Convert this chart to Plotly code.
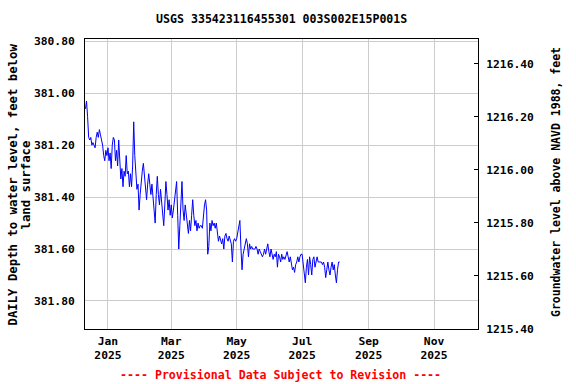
import pandas as pd
import plotly.graph_objects as go

start_date = "2024-12-11"
depth_ft = [
    381.06, 381.03, 381.09, 381.17, 381.18, 381.17, 381.20, 381.19, 381.20, 381.21,
    381.17, 381.15, 381.17, 381.14, 381.16, 381.18, 381.20, 381.24, 381.26, 381.22,
    381.24, 381.21, 381.26, 381.23, 381.29, 381.20, 381.17, 381.18, 381.26, 381.22,
    381.28, 381.18, 381.26, 381.33, 381.29, 381.36, 381.30, 381.32, 381.24, 381.31,
    381.30, 381.36, 381.31, 381.36, 381.28, 381.11, 381.24, 381.31, 381.37, 381.35,
    381.45, 381.39, 381.33, 381.30, 381.27, 381.33, 381.37, 381.41, 381.35, 381.31,
    381.35, 381.39, 381.35, 381.41, 381.46, 381.50, 381.39, 381.32, 381.39, 381.43,
    381.37, 381.41, 381.47, 381.51, 381.43, 381.34, 381.39, 381.45, 381.41, 381.47,
    381.43, 381.48, 381.45, 381.41, 381.37, 381.34, 381.47, 381.60, 381.51, 381.43,
    381.34, 381.45, 381.49, 381.43, 381.46, 381.51, 381.54, 381.49, 381.53, 381.47,
    381.41, 381.47, 381.51, 381.49, 381.53, 381.50, 381.52, 381.51, 381.51, 381.52,
    381.47, 381.43, 381.41, 381.45, 381.62, 381.59, 381.50, 381.53, 381.49, 381.51,
    381.50, 381.52, 381.50, 381.54, 381.57, 381.55, 381.57, 381.58, 381.56, 381.60,
    381.55, 381.54, 381.56, 381.57, 381.55, 381.57, 381.58, 381.65, 381.57, 381.56,
    381.57, 381.56, 381.53, 381.50, 381.49, 381.60, 381.68, 381.62, 381.60, 381.57,
    381.56, 381.58, 381.63, 381.58, 381.60, 381.59, 381.60, 381.60, 381.60, 381.59,
    381.60, 381.62, 381.60, 381.61, 381.62, 381.63, 381.62, 381.60, 381.62, 381.60,
    381.58, 381.61, 381.63, 381.60, 381.62, 381.64, 381.62, 381.63, 381.61, 381.67,
    381.62, 381.63, 381.65, 381.62, 381.64, 381.63, 381.64, 381.62, 381.61, 381.63,
    381.65, 381.63, 381.66, 381.68, 381.67, 381.69, 381.66, 381.65, 381.63, 381.65,
    381.63, 381.62, 381.62, 381.65, 381.69, 381.73, 381.67, 381.64, 381.70, 381.63,
    381.66, 381.70, 381.64, 381.63, 381.67, 381.65, 381.63, 381.65, 381.65, 381.65,
    381.65, 381.66, 381.65, 381.67, 381.71, 381.68, 381.65, 381.68, 381.70, 381.67,
    381.65, 381.68, 381.66, 381.70, 381.73, 381.68, 381.65, 381.65,
]
dates = pd.date_range(start_date, periods=len(depth_ft), freq="D")

left_ticks = [380.80, 381.00, 381.20, 381.40, 381.60, 381.80]
right_ticks = [1215.40, 1215.60, 1215.80, 1216.00, 1216.20, 1216.40]
x_tick_dates = ["2025-01-01", "2025-03-01", "2025-05-01", "2025-07-01", "2025-09-01", "2025-11-01"]
x_tick_text = ["Jan<br>2025", "Mar<br>2025", "May<br>2025", "Jul<br>2025", "Sep<br>2025", "Nov<br>2025"]

FONT = "DejaVu Sans Mono"

fig = go.Figure()
fig.add_trace(go.Scatter(x=dates, y=depth_ft, mode="lines",
                         line=dict(color="#0000ff", width=1),
                         showlegend=False, hoverinfo="skip"))
fig.add_trace(go.Scatter(x=[dates[0]], y=[None], yaxis="y2", mode="lines",
                         showlegend=False, hoverinfo="skip"))

fig.update_layout(
    width=576, height=384,
    margin=dict(l=85, r=98, t=39, b=55),
    paper_bgcolor="white", plot_bgcolor="white",
    font=dict(family=FONT, color="black"),
    title=dict(text="USGS 335423116455301 003S002E15P001S",
               x=0.489, xanchor="center", y=1 - 19 / 384, yanchor="middle",
               font=dict(family=FONT, size=11.6, color="black", weight="bold")),
    xaxis=dict(
        range=["2024-12-10 14:00", "2025-12-12 00:00"],
        tickvals=x_tick_dates, ticktext=x_tick_text,
        showgrid=True, gridcolor="#cccccc", gridwidth=1,
        showline=True, linecolor="black", linewidth=1, mirror=True,
        ticks="", ticklabelstandoff=1,
        tickfont=dict(family=FONT, size=11.3, color="black", weight="bold"),
        zeroline=False,
    ),
    yaxis=dict(
        range=[381.908, 380.791],
        tickvals=left_ticks, tickformat=".2f",
        showgrid=True, gridcolor="#cccccc", gridwidth=1,
        showline=True, linecolor="black", linewidth=1, mirror=True,
        ticks="", ticklabelstandoff=7,
        tickfont=dict(family=FONT, size=11.3, color="black", weight="bold"),
        zeroline=False,
    ),
    yaxis2=dict(
        overlaying="y", side="right",
        range=[1215.40, 1216.493],
        tickvals=right_ticks, tickformat=".2f",
        showgrid=False, showline=True, linecolor="black", linewidth=1,
        ticks="inside", ticklen=4, tickcolor="black", ticklabelstandoff=5,
        tickfont=dict(family=FONT, size=11.3, color="black", weight="bold"),
        zeroline=False,
    ),
)

fig.add_annotation(text="DAILY Depth to water level, feet below",
                   xref="paper", yref="paper", x=(12.5 - 85) / 393, y=(329 - 185) / 290,
                   textangle=-90, showarrow=False, xanchor="center", yanchor="middle",
                   font=dict(family=FONT, size=12.3, color="black", weight="bold"))
fig.add_annotation(text="land surface",
                   xref="paper", yref="paper", x=(25.5 - 85) / 393, y=(329 - 185) / 290,
                   textangle=-90, showarrow=False, xanchor="center", yanchor="middle",
                   font=dict(family=FONT, size=12.3, color="black", weight="bold"))
fig.add_annotation(text="Groundwater level above NAVD 1988, feet",
                   xref="paper", yref="paper", x=(556 - 85) / 393, y=(329 - 182) / 290,
                   textangle=-90, showarrow=False, xanchor="center", yanchor="middle",
                   font=dict(family=FONT, size=11.5, color="black", weight="bold"))
fig.add_annotation(text="---- Provisional Data Subject to Revision ----",
                   xref="paper", yref="paper", x=(280.5 - 85) / 393, y=(329 - 375) / 290,
                   showarrow=False, xanchor="center", yanchor="middle",
                   font=dict(family=FONT, size=11.6, color="red", weight="bold"))

fig.write_html("out.html", config={"displayModeBar": False},
               post_script="document.body.style.margin='0';")
